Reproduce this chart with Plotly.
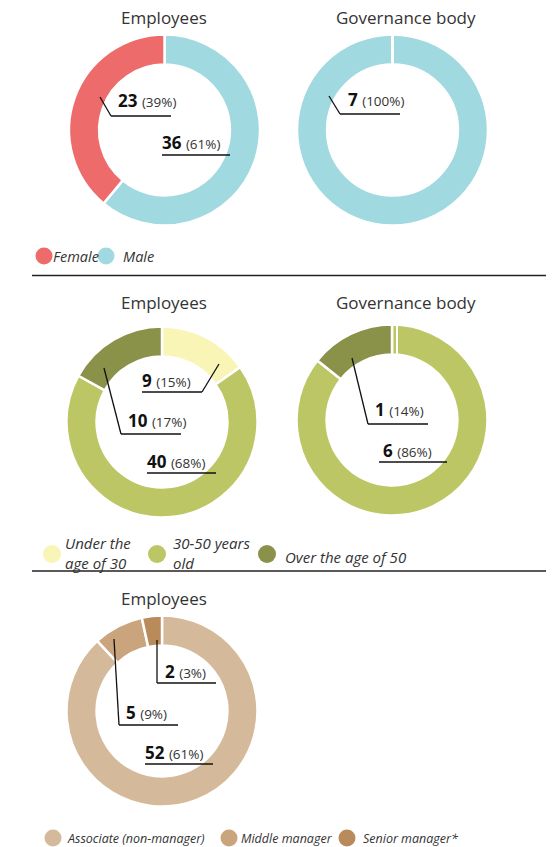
import plotly.graph_objects as go

W, H = 552, 847

# ---- data ----
gender_labels = ["Male", "Female"]
gender_colors = ["#A0D9DF", "#EE6B6B"]
gender_employees = [36, 23]
gender_employees_pct = ["61%", "39%"]
gender_governance = [7, 0]
gender_governance_pct = ["100%", "0%"]

age_labels = ["Under the age of 30", "30-50 years old", "Over the age of 50"]
age_legend_text = ["Under the<br>age of 30", "30-50 years<br>old",
                   "Over the age of 50"]
age_colors = ["#F8F5B6", "#BCC664", "#8A9149"]
age_employees = [9, 40, 10]
age_employees_pct = ["15%", "68%", "17%"]
age_governance = [0, 6, 1]
age_governance_pct = ["0%", "86%", "14%"]

role_labels = ["Associate (non-manager)", "Middle manager", "Senior manager*"]
role_colors = ["#D5B99B", "#C9A47C", "#BA8B5A"]
role_employees = [52, 5, 2]
role_employees_pct = ["61%", "9%", "3%"]

FONT = "Open Sans"
R = 95.5
HOLE = 0.685


def px(x):
    return x / W


def py(y):
    return 1 - y / H


fig = go.Figure()


def donut(labels, values, colors, cx, cy):
    fig.add_trace(go.Pie(
        labels=labels, values=values, sort=False, direction="clockwise",
        rotation=0, hole=HOLE, textinfo="none", hoverinfo="label+value",
        marker=dict(colors=colors, line=dict(color="white", width=2.5)),
        domain=dict(x=[px(cx - R), px(cx + R)], y=[py(cy + R), py(cy - R)]),
        showlegend=False,
    ))


donut(gender_labels, gender_employees, gender_colors, 164.5, 130)
donut(gender_labels, gender_governance, gender_colors, 392.5, 130)
donut(age_labels, age_employees, age_colors, 162, 422)
donut(age_labels, age_governance, age_colors, 392, 420)
donut(role_labels, role_employees, role_colors, 162, 711)

annotations = []
shapes = []


def text(x, y, s, size, color="#333", style="normal", anchor="left"):
    annotations.append(dict(
        x=px(x), y=py(y), xref="paper", yref="paper", text=s, showarrow=False,
        xanchor=anchor, yanchor="middle", align="left",
        font=dict(family=FONT, size=size, color=color, style=style),
    ))


def line(x0, y0, x1, y1, color="#111", width=1.3):
    shapes.append(dict(type="line", xref="paper", yref="paper",
                       x0=px(x0), y0=py(y0), x1=px(x1), y1=py(y1),
                       line=dict(color=color, width=width)))


def callout(values, pcts, i, tx, ty, ux0, ux1, uy, leader=None):
    s = (f"<b>{values[i]}</b> <span style='font-size:13.5px;color:#333'>"
         f"({pcts[i]})</span>")
    text(tx, ty, s, 17, color="#111")
    line(ux0, uy, ux1, uy)
    if leader:
        line(leader[0], leader[1], leader[2], leader[3])


# titles
text(164, 18, "Employees", 17, anchor="center")
text(406, 18, "Governance body", 17, anchor="center")
text(164, 302, "Employees", 17, anchor="center")
text(406, 302, "Governance body", 17, anchor="center")
text(164, 598, "Employees", 17, anchor="center")

# callouts – gender
callout(gender_employees, gender_employees_pct, 1, 116, 100, 111, 171, 116,
        (100, 97, 111, 116))
callout(gender_employees, gender_employees_pct, 0, 160, 143, 162, 230, 155)
callout(gender_governance, gender_governance_pct, 0, 346, 99, 340, 400, 114,
        (329, 96, 340, 114))

# callouts – age
callout(age_employees, age_employees_pct, 0, 140, 380, 142, 202, 392,
        (202, 392, 219, 364))
callout(age_employees, age_employees_pct, 2, 126, 420, 121, 181, 434,
        (121, 434, 104, 368))
callout(age_employees, age_employees_pct, 1, 145, 462, 147, 216, 473)
callout(age_governance, age_governance_pct, 2, 373, 409, 368, 428, 424,
        (368, 424, 352, 358))
callout(age_governance, age_governance_pct, 1, 381, 451, 379, 447, 462)

# callouts – role
callout(role_employees, role_employees_pct, 2, 163, 671, 157, 216, 683,
        (157, 683, 157, 640))
callout(role_employees, role_employees_pct, 1, 124, 712, 119, 178, 725,
        (119, 725, 114, 639))
callout(role_employees, role_employees_pct, 0, 143, 752, 145, 213, 764)

# slice separators at twelve o'clock on the governance rings
line(392.5, 35, 392.5, 66, color="white", width=2.5)
line(392, 325, 392, 356, color="white", width=2)
line(397, 325, 397, 356, color="white", width=2)


def dot(x, y, color, r=8.5):
    shapes.append(dict(type="circle", xref="paper", yref="paper",
                       x0=px(x - r), x1=px(x + r), y0=py(y + r), y1=py(y - r),
                       fillcolor=color, line=dict(width=0)))


# legends
dot(44, 256, gender_colors[1])
text(51, 256, gender_labels[1], 14.5, style="italic")
dot(106, 256, gender_colors[0])
text(121, 256, gender_labels[0], 14.5, style="italic")

for cx, tx, ty, i in [(52, 63, 553, 0), (157, 171, 553, 1), (267, 283, 557, 2)]:
    dot(cx, 554, age_colors[i], 9)
    text(tx, ty, age_legend_text[i], 15, style="italic")

for cx, tx, i in [(53, 65, 0), (229, 239, 1), (347, 361, 2)]:
    dot(cx, 838, role_colors[i])
    text(tx, 838, role_labels[i], 12.5, style="italic")

# section dividers
line(32, 275.5, 546, 275.5, color="#222", width=1.5)
line(32, 571, 546, 571, color="#222", width=1.5)

fig.update_layout(
    width=W, height=H, margin=dict(l=0, r=0, t=0, b=0),
    paper_bgcolor="white", plot_bgcolor="white",
    annotations=annotations, shapes=shapes,
    font=dict(family=FONT),
)

fig.write_html("out.html")
